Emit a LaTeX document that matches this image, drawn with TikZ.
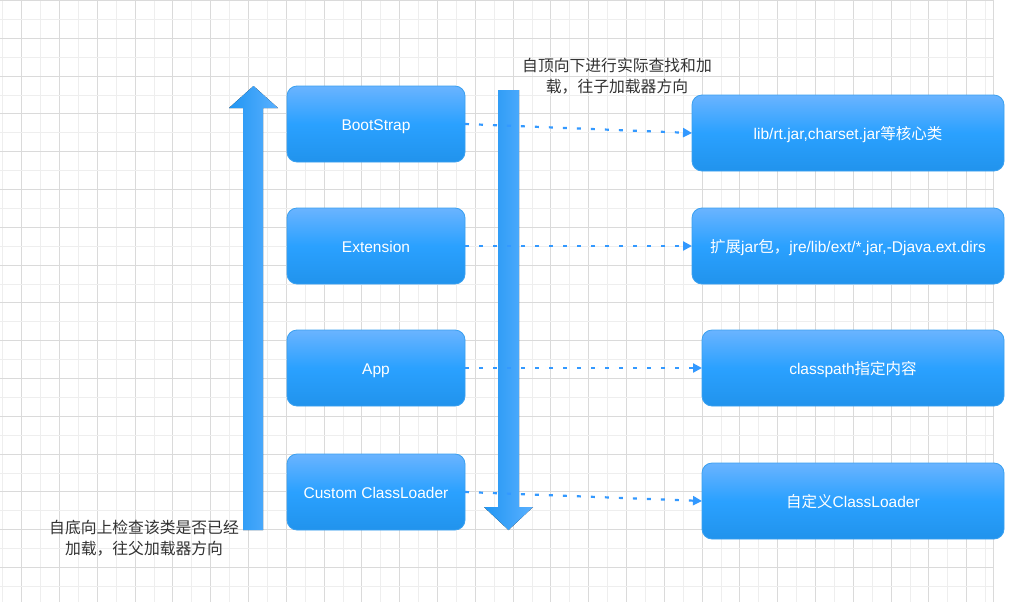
\documentclass[tikz,border=0pt]{standalone}
\usepackage{fontspec}
\setmainfont{Liberation Sans}
\newfontfamily\cjk{Noto Sans CJK SC}
\usetikzlibrary{arrows.meta}
\definecolor{gridlight}{HTML}{EEEEEE}
\definecolor{griddark}{HTML}{DADADA}
\definecolor{boxtop}{HTML}{6AB4FF}
\definecolor{boxmid}{HTML}{2AA1FF}
\definecolor{boxbot}{HTML}{2193EC}
\definecolor{boxline}{HTML}{3AA0F0}
\definecolor{arrl}{HTML}{2196F3}
\definecolor{arrr}{HTML}{5AB0FF}
\definecolor{conncol}{HTML}{3399FF}
\definecolor{txt}{HTML}{333333}
\tikzset{
  box/.style={draw=boxline, line width=0.8pt, rounded corners=10pt,
    top color=boxtop, bottom color=boxbot, middle color=boxmid,
    text=white, font=\fontsize{15.5}{18}\selectfont, minimum height=76pt,
    text height=12.5pt, text depth=0pt,
    inner sep=0pt, outer sep=0pt},
  lbox/.style={box, minimum width=178pt},
  conn/.style={draw=conncol, line width=2.2pt, dash pattern=on 4pt off 10pt,
    -{Triangle[length=9pt,width=9pt]}},
  bigarrow/.style={left color=arrl, right color=arrr, draw=none},
  lbl/.style={text=txt, align=center, font=\cjk\fontsize{15.8}{21}\selectfont, inner sep=0pt}
}
\begin{document}
\begin{tikzpicture}[x=1pt,y=-1pt]
\useasboundingbox (0,0) rectangle (1029,603);
\fill[white] (0,0) rectangle (1029,603);
% grid
\foreach \i in {0,...,52}{
  \pgfmathsetmacro\xx{2.8+18.9*\i}
  \pgfmathparse{mod(\i,2)==1 ? "griddark" : "gridlight"}
  \draw[\pgfmathresult, line width=1pt] (\xx,0) -- (\xx,602);
}
\draw[griddark, line width=1pt] (993,0) -- (993,602);
\foreach \i in {0,...,31}{
  \pgfmathsetmacro\yy{0.5+18.9*\i}
  \pgfmathparse{mod(\i,2)==0 ? "griddark" : "gridlight"}
  \draw[\pgfmathresult, line width=1pt] (0,\yy) -- (993,\yy);
}
% big arrows
\fill[bigarrow] (243,530) -- (243,108) -- (229,108) -- (253.5,86) -- (278,108) -- (263,108) -- (263,530) -- cycle;
\fill[bigarrow] (498,90) -- (519,90) -- (519,507) -- (533,507) -- (508.5,530) -- (484,507) -- (498,507) -- cycle;
% left boxes
\node[lbox] (b1) at (376,124) {BootStrap};
\node[lbox] (b2) at (376,246) {Extension};
\node[lbox] (b3) at (376,368) {App};
\node[lbox] (b4) at (376,492) {Custom ClassLoader};
% right boxes
\node[box, minimum width=312pt] (r1) at (848,133) {lib/rt.jar,charset.jar{\cjk 等核心类}};
\node[box, minimum width=312pt] (r2) at (848,246) {{\cjk 扩展}jar{\cjk 包，}jre/lib/ext/*.jar,-Djava.ext.dirs};
\node[box, minimum width=302pt] (r3) at (853,368) {classpath{\cjk 指定内容}};
\node[box, minimum width=302pt] (r4) at (853,501) {{\cjk 自定义}ClassLoader};
% connectors
\draw[conn] (b1.east) -- (r1.west);
\draw[conn] (b2.east) -- (r2.west);
\draw[conn] (b3.east) -- (r3.west);
\draw[conn] (b4.east) -- (r4.west);
% labels
\node[lbl] (t1) at (617,76.5) {自顶向下进行实际查找和加\\载，往子加载器方向};
\node[lbl] (t2) at (144,538) {自底向上检查该类是否已经\\加载，往父加载器方向};
\end{tikzpicture}
\end{document}
